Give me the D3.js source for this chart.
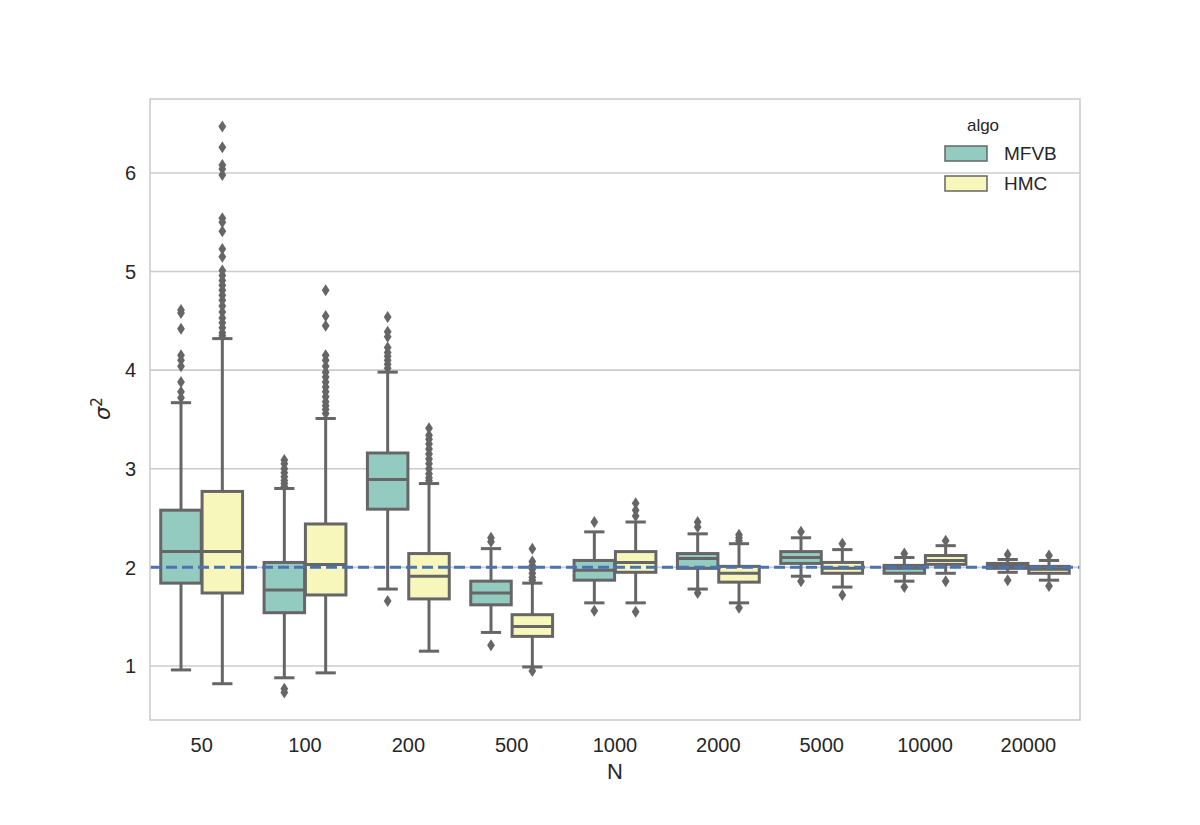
<!DOCTYPE html>
<html>
<head>
<meta charset="utf-8">
<script src="https://cdn.jsdelivr.net/npm/d3@7"></script>
<style>
  body { margin: 0; background: #fff; }
  text { font-family: "Liberation Sans", Arial, sans-serif; fill: #262626; }
</style>
</head>
<body>
<div id="chart"></div>
<script>
// categories and series
var categories = ["50", "100", "200", "500", "1000", "2000", "5000", "10000", "20000"];
var algos = ["MFVB", "HMC"];
var yTicks = [1, 2, 3, 4, 5, 6];
var trueValue = 2;

// MFVB box stats
var mfvbQ1 = [1.84, 1.54, 2.59, 1.62, 1.87, 1.99, 2.04, 1.94, 1.99];
var mfvbMed = [2.16, 1.77, 2.89, 1.74, 1.97, 2.09, 2.10, 1.99, 2.02];
var mfvbQ3 = [2.58, 2.05, 3.16, 1.86, 2.07, 2.14, 2.16, 2.02, 2.04];
var mfvbLo = [0.96, 0.88, 1.78, 1.34, 1.64, 1.78, 1.91, 1.86, 1.95];
var mfvbHi = [3.67, 2.80, 3.98, 2.19, 2.36, 2.34, 2.30, 2.10, 2.08];
var mfvbOut = [
    [4.61, 4.58, 4.42, 4.15, 4.10, 4.04, 3.88, 3.78, 3.72],
    [3.09, 3.05, 3.00, 2.96, 2.92, 2.88, 2.85, 2.82, 0.77, 0.73],
    [4.54, 4.39, 4.34, 4.23, 4.18, 4.14, 4.10, 4.06, 4.02, 1.66],
    [2.30, 2.26, 1.21],
    [2.46, 1.56],
    [2.46, 2.41, 1.74],
    [2.36, 1.86],
    [2.14, 1.80],
    [2.13, 1.87]
];

// HMC box stats
var hmcQ1 = [1.74, 1.72, 1.68, 1.30, 1.95, 1.85, 1.94, 2.03, 1.94];
var hmcMed = [2.16, 2.03, 1.91, 1.40, 2.05, 1.94, 1.99, 2.07, 1.98];
var hmcQ3 = [2.77, 2.44, 2.14, 1.52, 2.16, 2.01, 2.05, 2.12, 2.01];
var hmcLo = [0.82, 0.93, 1.15, 0.99, 1.64, 1.64, 1.80, 1.94, 1.87];
var hmcHi = [4.32, 3.51, 2.85, 1.84, 2.46, 2.24, 2.18, 2.22, 2.07];
var hmcOut = [
    [6.47, 6.26, 6.08, 6.04, 5.98, 5.54, 5.50, 5.41, 5.23, 5.15, 5.01, 4.96, 4.91, 4.86,
     4.81, 4.76, 4.71, 4.65, 4.59, 4.53, 4.48, 4.43, 4.38, 4.35],
    [4.81, 4.55, 4.45, 4.15, 4.10, 4.04, 3.98, 3.93, 3.88, 3.83, 3.78, 3.73, 3.68, 3.64, 3.60, 3.56],
    [3.41, 3.34, 3.30, 3.25, 3.20, 3.15, 3.10, 3.05, 3.00, 2.95, 2.91, 2.88],
    [2.19, 2.06, 2.02, 1.98, 1.94, 1.90, 1.87, 0.95],
    [2.65, 2.58, 2.52, 1.55],
    [2.33, 2.30, 2.27, 1.59],
    [2.24, 1.72],
    [2.27, 1.86],
    [2.12, 1.81]
];

var colors = { MFVB: "#94cbc1", HMC: "#f7f7bb" };
var gray = "#666666";

// build rows for drawing
var boxes = [];
categories.forEach(function (c, i) {
    boxes.push({ cat: c, algo: "MFVB", q1: mfvbQ1[i], med: mfvbMed[i], q3: mfvbQ3[i], lo: mfvbLo[i], hi: mfvbHi[i], out: mfvbOut[i] });
    boxes.push({ cat: c, algo: "HMC", q1: hmcQ1[i], med: hmcMed[i], q3: hmcQ3[i], lo: hmcLo[i], hi: hmcHi[i], out: hmcOut[i] });
});

var margin = { top: 99, right: 120, bottom: 105, left: 150 };
var W = 1200, H = 825;
var width = W - margin.left - margin.right;
var height = H - margin.top - margin.bottom;

var svg = d3.select("#chart").append("svg")
    .attr("width", W)
    .attr("height", H);

var g = svg.append("g")
    .attr("transform", "translate(" + margin.left + "," + margin.top + ")");

var xScale = d3.scaleBand().domain(categories).range([0, width]).padding(0);
var hueScale = d3.scaleBand().domain(algos).range([0, xScale.bandwidth() * 0.8]);
var yScale = d3.scaleLinear().domain([0.452, 6.75]).range([height, 0]);

// grid
g.selectAll(".grid").data(yTicks).enter().append("line")
    .attr("x1", 0).attr("x2", width)
    .attr("y1", function (d) { return yScale(d); })
    .attr("y2", function (d) { return yScale(d); })
    .attr("stroke", "#cccccc").attr("stroke-width", 1.6);

// y tick labels
g.selectAll(".ytick").data(yTicks).enter().append("text")
    .attr("x", -14)
    .attr("y", function (d) { return yScale(d); })
    .attr("dy", "0.36em")
    .attr("text-anchor", "end")
    .style("font-size", "20px")
    .text(function (d) { return d; });

// x tick labels
g.selectAll(".xtick").data(categories).enter().append("text")
    .attr("x", function (d) { return xScale(d) + xScale.bandwidth() / 2; })
    .attr("y", height + 32)
    .attr("text-anchor", "middle")
    .style("font-size", "20px")
    .text(function (d) { return d; });

// boxes
var bw = hueScale.bandwidth() * 0.98;
var bx = g.selectAll(".box").data(boxes).enter().append("g")
    .attr("transform", function (d) {
        var cx = xScale(d.cat) + xScale.bandwidth() * 0.1 + hueScale(d.algo) + hueScale.bandwidth() / 2;
        return "translate(" + cx + ",0)";
    });

bx.append("line").attr("x1", 0).attr("x2", 0)
    .attr("y1", function (d) { return yScale(d.q3); })
    .attr("y2", function (d) { return yScale(d.hi); })
    .attr("stroke", gray).attr("stroke-width", 3);
bx.append("line").attr("x1", 0).attr("x2", 0)
    .attr("y1", function (d) { return yScale(d.q1); })
    .attr("y2", function (d) { return yScale(d.lo); })
    .attr("stroke", gray).attr("stroke-width", 3);
bx.append("line").attr("x1", -bw / 4).attr("x2", bw / 4)
    .attr("y1", function (d) { return yScale(d.hi); })
    .attr("y2", function (d) { return yScale(d.hi); })
    .attr("stroke", gray).attr("stroke-width", 3);
bx.append("line").attr("x1", -bw / 4).attr("x2", bw / 4)
    .attr("y1", function (d) { return yScale(d.lo); })
    .attr("y2", function (d) { return yScale(d.lo); })
    .attr("stroke", gray).attr("stroke-width", 3);

bx.append("rect")
    .attr("x", -bw / 2)
    .attr("width", bw)
    .attr("y", function (d) { return yScale(d.q3); })
    .attr("height", function (d) { return yScale(d.q1) - yScale(d.q3); })
    .attr("fill", function (d) { return colors[d.algo]; })
    .attr("stroke", gray).attr("stroke-width", 3);

bx.append("line").attr("x1", -bw / 2).attr("x2", bw / 2)
    .attr("y1", function (d) { return yScale(d.med); })
    .attr("y2", function (d) { return yScale(d.med); })
    .attr("stroke", gray).attr("stroke-width", 3);

// fliers (thin diamonds)
bx.selectAll(".flier").data(function (d) { return d.out; }).enter().append("path")
    .attr("d", "M0,-6L3.9,0L0,6L-3.9,0Z")
    .attr("transform", function (v) { return "translate(0," + yScale(v) + ")"; })
    .attr("fill", gray);

// reference line
g.append("line")
    .attr("x1", 0).attr("x2", width)
    .attr("y1", yScale(trueValue)).attr("y2", yScale(trueValue))
    .attr("stroke", "#4c72b0").attr("stroke-width", 3)
    .attr("stroke-dasharray", "11,5");

// spines
g.append("rect")
    .attr("x", 0).attr("y", 0).attr("width", width).attr("height", height)
    .attr("fill", "none").attr("stroke", "#cccccc").attr("stroke-width", 1.6);

// axis labels
svg.append("text")
    .attr("x", margin.left + width / 2)
    .attr("y", 779)
    .attr("text-anchor", "middle")
    .style("font-size", "22px")
    .text("N");

var yl = svg.append("text")
    .attr("transform", "translate(110," + (margin.top + height / 2 - 1) + ") rotate(-90)")
    .attr("text-anchor", "middle")
    .style("font-family", "'DejaVu Sans', sans-serif")
    .style("font-size", "21px");
yl.append("tspan").style("font-style", "italic").text("σ");
yl.append("tspan").attr("dy", "-0.55em").style("font-size", "15px").text("2");

// legend
var leg = svg.append("g").attr("transform", "translate(945,0)");
leg.append("text")
    .attr("x", 38).attr("y", 131)
    .attr("text-anchor", "middle")
    .style("font-size", "17px")
    .text("algo");
var li = leg.selectAll(".li").data(algos).enter().append("g")
    .attr("transform", function (d, i) { return "translate(0," + (146 + i * 30) + ")"; });
li.append("rect")
    .attr("width", 42).attr("height", 15)
    .attr("fill", function (d) { return colors[d]; })
    .attr("stroke", gray).attr("stroke-width", 1.5);
li.append("text")
    .attr("x", 59).attr("y", 14)
    .style("font-size", "19px")
    .text(function (d) { return d; });
</script>
</body>
</html>
